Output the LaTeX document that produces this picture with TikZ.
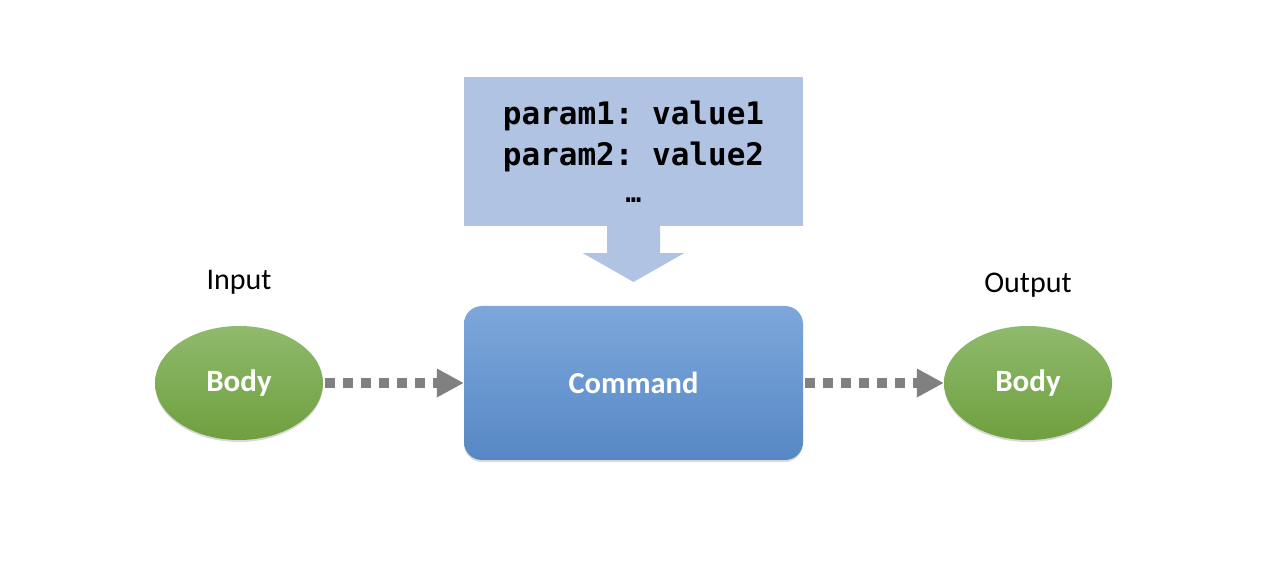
\documentclass[tikz,border=0pt]{standalone}
\usepackage{fontspec}
\setmainfont{Carlito}
\setmonofont{DejaVu Sans Mono}
\usepackage{tikz}
\usetikzlibrary{calc,arrows.meta,shapes,positioning,shadows}
\definecolor{ParamBlue}{HTML}{B0C3E3}
\definecolor{BodyTop}{HTML}{8FBA6C}
\definecolor{BodyBottom}{HTML}{6F9F3F}
\definecolor{CmdTop}{HTML}{7DA7DB}
\definecolor{CmdMid}{HTML}{6A9BD8}
\definecolor{CmdBottom}{HTML}{5788C5}
\definecolor{FlowGray}{HTML}{808080}

\begin{document}
\begin{tikzpicture}[x=1pt, y=1pt, font=\fontsize{30}{36}\selectfont,
	soft/.style={drop shadow={shadow xshift=0pt, shadow yshift=-2pt, opacity=.15, fill=black}},
	body/.style={ellipse, soft, minimum width=168pt, minimum height=114pt, inner sep=0pt, top color=BodyTop, bottom color=BodyBottom, text=white, font=\fontsize{31}{36}\selectfont\bfseries},
	label/.style={anchor=base, inner sep=0pt},
	flow/.style={draw=FlowGray, line width=10pt, dash pattern=on 10pt off 8pt, -{Triangle[length=27pt, width=27pt]}, shorten <=2pt}]
	\useasboundingbox (0,0) rectangle (1288,568);

	\node ({params}) at (633.5, 416.5) [fill=ParamBlue, minimum width=339pt, minimum height=149pt, inner sep=0pt, align=center, font=\fontsize{31}{41}\selectfont\ttfamily\bfseries] {param1: value1\\param2: value2\\[-4pt]{\fontsize{26}{26}\selectfont …}};
	\node ({cmd}) at (633.5, 185) [soft, rounded corners=18pt, minimum width=339pt, minimum height=154pt, top color=CmdTop, middle color=CmdMid, bottom color=CmdBottom, text=white, font=\fontsize{30.5}{36}\selectfont\bfseries] {Command};
	\coordinate ({tip}) at (633.5, 286);
	\fill[ParamBlue] ($(params.south)+(-26.5,0)$) -- ++(0,-27) -- ++(-24,0) -- (tip) -- ($(params.south)+(50.5,-27)$) -- ++(-24,0) -- ++(0,27) -- cycle;

	\node ({in}) at (239, 185) [body] {Body};
	\node ({out}) at (1028, 185) [body] {Body};
	\node ({inlabel}) at (239, 278) [label] {Input};
	\node ({outlabel}) at (1028, 275) [label] {Output};

	\draw[flow] (in.east) -- (cmd.west);
	\draw[flow] (cmd.east) -- (out.west);
\end{tikzpicture}
\end{document}
